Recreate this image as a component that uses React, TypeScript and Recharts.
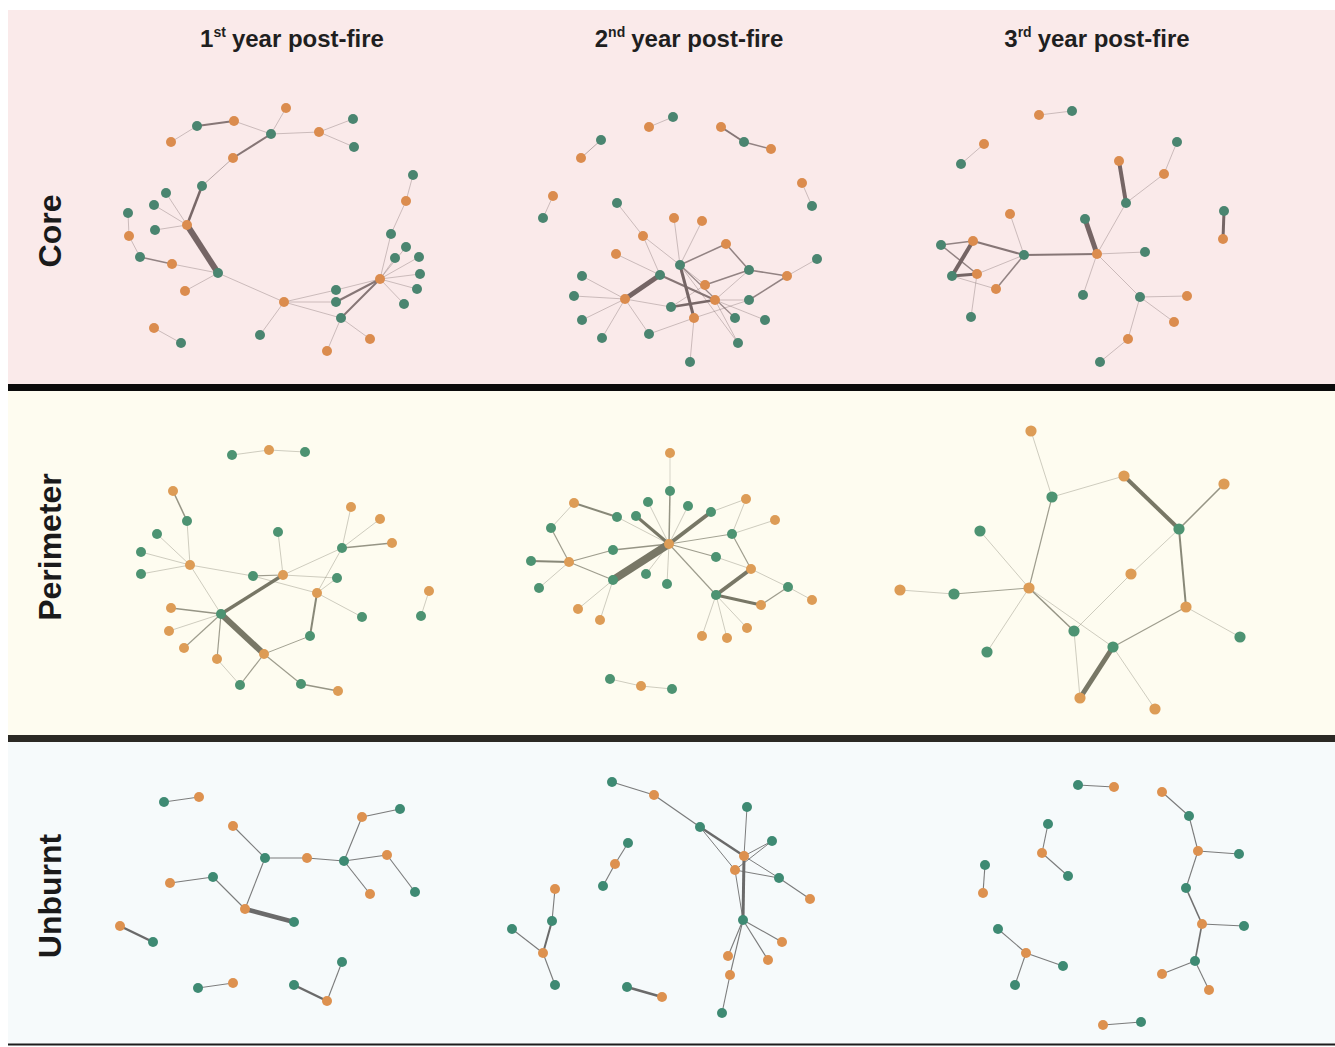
import React from 'react';
import { ScatterChart, Scatter, XAxis, YAxis, ReferenceArea } from 'recharts';

type N = [string, 'g' | 'o', number, number];
type E = [string, string, number];

// ---------- Core ----------
const coreY1Nodes: N[] = [
  ['A1','o',286,108],['A2','g',197,126],['A3','o',234,121],['A4','o',171,142],['A5','g',271,134],
  ['A6','o',319,132],['A7','g',353,119],['A8','g',354,147],['A9','o',233,158],['A10','g',202,186],
  ['A11','g',166,193],['A12','g',154,205],['A13','g',128,213],['A14','o',187,225],['A15','g',155,230],
  ['A16','o',129,236],['A17','g',140,257],['A18','o',172,264],['A19','g',218,273],['A20','o',185,291],
  ['A21','o',284,302],['A22','g',336,290],['A23','g',336,302],['A24','g',341,318],['A25','o',380,279],
  ['A26','g',395,258],['A27','g',406,247],['A28','g',419,257],['A29','g',420,274],['A30','g',417,289],
  ['A31','g',404,304],['A32','g',391,234],['A33','o',406,201],['A34','g',413,175],['A35','g',260,335],
  ['A36','o',370,339],['A37','o',327,351],['A38','o',154,328],['A39','g',181,343],
];
const coreY1Edges: E[] = [
  ['A4','A2',0.6],['A2','A3',2],['A3','A5',0.6],['A5','A1',0.6],['A5','A6',0.6],['A6','A7',0.6],
  ['A6','A8',0.6],['A5','A9',2],['A9','A10',0.8],['A10','A14',2.5],['A14','A11',0.6],['A14','A12',0.6],
  ['A14','A15',0.6],['A14','A19',6],['A13','A16',0.6],['A16','A17',0.6],['A17','A18',1.5],['A18','A19',0.6],
  ['A19','A20',0.6],['A19','A21',0.6],['A21','A22',0.6],['A21','A23',0.6],['A21','A24',0.6],['A21','A35',0.6],
  ['A22','A25',0.6],['A23','A25',2],['A24','A25',2],['A25','A26',0.6],['A25','A27',0.6],['A25','A28',0.6],
  ['A25','A29',0.6],['A25','A30',0.6],['A25','A31',0.6],['A25','A32',0.6],['A32','A33',0.6],['A33','A34',0.6],
  ['A24','A36',0.6],['A24','A37',0.6],['A38','A39',0.6],
];

const coreY2Nodes: N[] = [
  ['B1','o',649,127],['B2','g',673,117],['B3','g',601,140],['B4','o',581,158],['B5','o',721,127],
  ['B6','g',744,142],['B7','o',771,149],['B8','o',553,196],['B9','g',543,218],['B10','o',802,183],
  ['B11','g',812,206],['B12','g',617,203],['B13','o',674,218],['B14','o',702,221],['B15','o',643,236],
  ['B16','o',726,244],['B17','o',616,254],['B18','g',680,265],['B19','g',817,259],['B20','g',749,270],
  ['B21','g',660,275],['B22','o',787,276],['B23','g',582,276],['B24','o',705,285],['B25','g',574,296],
  ['B26','o',625,299],['B27','o',715,300],['B28','g',749,300],['B29','g',671,307],['B30','o',694,318],
  ['B31','g',735,318],['B32','g',582,320],['B33','g',765,320],['B34','g',602,338],['B35','g',649,334],
  ['B36','g',738,343],['B37','g',690,362],
];
const coreY2Edges: E[] = [
  ['B1','B2',0.6],['B3','B4',0.8],['B5','B6',2],['B6','B7',1.5],['B8','B9',0.6],['B10','B11',0.6],
  ['B12','B15',0.6],['B15','B18',0.6],['B15','B21',0.6],['B13','B18',0.6],['B14','B18',0.6],['B16','B18',1.5],
  ['B16','B20',1.5],['B17','B21',0.6],['B18','B30',3],['B18','B24',0.6],['B18','B31',1.2],['B18','B36',0.6],
  ['B21','B26',5],['B21','B27',2],['B26','B23',0.6],['B26','B25',0.6],['B26','B32',0.6],['B26','B34',0.6],
  ['B26','B35',0.6],['B26','B29',0.6],['B29','B27',2.5],['B29','B24',0.6],['B24','B20',1.5],['B27','B20',0.6],
  ['B27','B28',0.6],['B27','B33',0.6],['B27','B36',0.6],['B30','B35',0.6],['B30','B37',0.6],['B30','B28',0.6],
  ['B20','B22',1.5],['B22','B19',0.6],['B22','B28',1.5],
];

const coreY3Nodes: N[] = [
  ['C1','o',1039,115],['C2','g',1072,111],['C3','o',984,144],['C4','g',961,164],['C5','o',1119,161],
  ['C6','g',1177,142],['C7','o',1164,174],['C8','g',1126,203],['C9','g',1224,211],['C10','o',1223,239],
  ['C11','o',1010,214],['C12','g',1085,219],['C13','g',941,245],['C14','o',973,241],['C15','g',1024,255],
  ['C16','o',1097,254],['C17','g',1145,252],['C18','g',952,276],['C19','o',977,274],['C20','o',996,289],
  ['C21','g',1083,295],['C22','g',1140,297],['C23','o',1187,296],['C24','o',1174,322],['C25','g',971,317],
  ['C26','o',1128,339],['C27','g',1100,362],
];
const coreY3Edges: E[] = [
  ['C1','C2',0.6],['C3','C4',0.6],['C5','C8',4],['C8','C7',0.6],['C7','C6',0.6],['C8','C16',0.6],
  ['C9','C10',3],['C12','C16',5],['C16','C15',2],['C16','C17',0.6],['C16','C21',0.6],['C16','C22',0.6],
  ['C22','C23',0.6],['C22','C24',0.6],['C22','C26',0.6],['C26','C27',0.6],['C11','C15',0.6],['C15','C14',2],
  ['C15','C19',0.6],['C15','C20',1.5],['C13','C14',1.5],['C13','C19',1.5],['C14','C18',4],['C18','C19',3],
  ['C18','C20',0.6],['C19','C25',0.6],
];

// ---------- Perimeter ----------
const periY1Nodes: N[] = [
  ['D1','g',232,455],['D2','o',269,450],['D3','g',305,452],['D4','o',173,491],['D5','g',187,521],
  ['D6','g',157,534],['D7','g',141,552],['D8','o',190,565],['D9','g',141,574],['D10','g',278,532],
  ['D11','o',351,507],['D12','o',380,519],['D13','g',342,548],['D14','o',392,543],['D15','g',253,576],
  ['D16','o',283,575],['D17','g',337,578],['D18','o',317,593],['D19','g',362,617],['D20','o',429,591],
  ['D21','g',421,616],['D22','o',171,608],['D23','g',221,614],['D24','o',169,631],['D25','o',184,648],
  ['D26','g',310,636],['D27','o',217,659],['D28','o',264,654],['D29','g',240,685],['D30','g',301,684],
  ['D31','o',338,691],
];
const periY1Edges: E[] = [
  ['D1','D2',0.6],['D2','D3',0.6],['D4','D5',1.5],['D5','D8',0.6],['D6','D8',0.6],['D7','D8',0.6],
  ['D9','D8',0.6],['D8','D15',0.6],['D8','D23',0.6],['D15','D16',1.2],['D10','D16',0.6],['D16','D13',0.6],
  ['D16','D17',0.6],['D16','D23',3.5],['D15','D18',0.6],['D13','D11',0.6],['D13','D12',0.6],['D13','D14',1.5],
  ['D13','D18',0.6],['D17','D18',0.6],['D18','D19',0.6],['D18','D26',2],['D26','D28',1],['D23','D22',1.5],
  ['D23','D24',0.6],['D23','D25',1.2],['D23','D27',1.2],['D23','D28',6],['D27','D29',0.6],['D28','D29',1.2],
  ['D28','D30',1.2],['D30','D31',1.5],['D20','D21',0.6],
];

const periY2Nodes: N[] = [
  ['E1','o',670,453],['E2','g',670,491],['E3','g',648,502],['E4','g',688,506],['E5','o',574,503],
  ['E6','o',746,499],['E7','g',617,517],['E8','g',636,516],['E9','g',711,512],['E10','o',775,520],
  ['E11','g',551,528],['E12','g',732,534],['E13','o',669,544],['E14','g',613,550],['E15','g',716,557],
  ['E16','g',531,561],['E17','o',569,562],['E18','o',751,569],['E19','g',646,574],['E20','g',613,580],
  ['E21','g',667,584],['E22','g',539,588],['E23','g',788,587],['E24','g',716,595],['E25','o',812,600],
  ['E26','o',761,605],['E27','o',578,609],['E28','o',600,620],['E29','o',747,628],['E30','o',702,636],
  ['E31','o',727,638],['E32','g',610,679],['E33','o',641,686],['E34','g',672,689],
];
const periY2Edges: E[] = [
  ['E1','E2',0.5],['E2','E13',1.5],['E3','E13',0.6],['E4','E13',0.6],['E8','E13',3],['E9','E13',4],
  ['E7','E13',0.6],['E12','E13',1],['E15','E13',1.2],['E14','E13',1.5],['E19','E13',0.6],['E21','E13',0.6],
  ['E20','E13',8],['E24','E13',1.2],['E5','E7',2],['E5','E11',0.6],['E11','E17',1.2],['E16','E17',2],
  ['E17','E14',1.2],['E17','E20',1.2],['E17','E22',0.6],['E20','E27',0.6],['E20','E28',0.6],['E6','E9',0.6],
  ['E6','E12',0.6],['E12','E10',0.6],['E12','E18',1.2],['E15','E18',0.6],['E18','E24',4],['E18','E23',0.6],
  ['E23','E25',0.6],['E23','E26',1.2],['E24','E26',3],['E24','E30',0.6],['E24','E31',0.6],['E24','E29',0.6],
  ['E32','E33',0.6],['E33','E34',0.6],
];

const periY3Nodes: N[] = [
  ['F1','o',1031,431],['F2','o',1124,476],['F3','o',1224,484],['F4','g',1052,497],['F5','g',980,531],
  ['F6','g',1179,529],['F7','o',1131,574],['F8','o',900,590],['F9','g',954,594],['F10','o',1029,588],
  ['F11','o',1186,607],['F12','g',1074,631],['F13','g',1240,637],['F14','g',1113,647],['F15','g',987,652],
  ['F16','o',1080,698],['F17','o',1155,709],
];
const periY3Edges: E[] = [
  ['F1','F4',0.6],['F4','F2',0.6],['F4','F10',1.2],['F2','F6',4],['F6','F3',1.5],['F6','F7',0.6],
  ['F6','F11',2],['F5','F10',0.6],['F8','F9',0.6],['F9','F10',1],['F10','F15',0.6],['F10','F12',1.5],
  ['F10','F14',0.6],['F7','F12',0.6],['F12','F16',0.6],['F14','F16',5],['F14','F11',1.2],['F14','F17',0.6],
  ['F11','F13',0.6],
];

// ---------- Unburnt ----------
const unbY1Nodes: N[] = [
  ['G1','g',164,802],['G2','o',199,797],['G3','o',233,826],['G4','g',265,858],['G5','o',307,858],
  ['G6','g',344,861],['G7','o',362,817],['G8','g',400,809],['G9','o',387,855],['G10','g',415,892],
  ['G11','o',370,894],['G12','o',170,883],['G13','g',213,877],['G14','o',245,909],['G15','g',294,922],
  ['G16','o',120,926],['G17','g',153,942],['G18','g',342,962],['G19','g',198,988],['G20','o',233,983],
  ['G21','g',294,985],['G22','o',327,1001],
];
const unbY1Edges: E[] = [
  ['G1','G2',1],['G3','G4',1.1],['G4','G5',1.1],['G5','G6',1.1],['G6','G7',1.1],['G7','G8',1.1],
  ['G6','G9',1.1],['G9','G10',1.1],['G6','G11',1.1],['G12','G13',1.1],['G13','G14',1.1],['G14','G4',1.1],
  ['G14','G15',4.5],['G16','G17',2.5],['G19','G20',1],['G21','G22',2.5],['G22','G18',1.1],
];

const unbY2Nodes: N[] = [
  ['H1','g',612,782],['H2','o',654,795],['H3','g',747,807],['H4','g',700,827],['H5','g',772,841],
  ['H6','o',744,856],['H7','o',735,870],['H8','g',779,878],['H9','o',810,899],['H10','g',628,843],
  ['H11','o',615,864],['H12','g',603,886],['H13','o',555,889],['H14','g',552,921],['H15','g',512,929],
  ['H16','o',543,953],['H17','g',555,985],['H18','g',743,920],['H19','o',782,942],['H20','o',728,956],
  ['H21','o',768,960],['H22','o',730,975],['H23','g',722,1013],['H24','g',627,987],['H25','o',662,997],
];
const unbY2Edges: E[] = [
  ['H1','H2',1.1],['H2','H4',1.1],['H4','H6',2.5],['H4','H7',1],['H3','H6',1],['H5','H6',1],
  ['H5','H7',1],['H6','H8',1],['H7','H8',1],['H8','H9',1.1],['H6','H18',3],['H7','H18',1],
  ['H18','H19',1.1],['H18','H20',1.1],['H18','H21',1.1],['H18','H22',1.1],['H22','H23',1.1],['H10','H11',1.1],
  ['H11','H12',1.1],['H13','H14',1.1],['H14','H16',2],['H15','H16',1.1],['H16','H17',1.1],['H24','H25',2.5],
];

const unbY3Nodes: N[] = [
  ['I1','g',1078,785],['I2','o',1114,787],['I3','o',1162,792],['I4','g',1189,816],['I5','g',1048,824],
  ['I6','o',1042,853],['I7','g',1068,876],['I8','o',1198,851],['I9','g',1239,854],['I10','g',985,865],
  ['I11','o',983,893],['I12','g',1186,888],['I13','o',1202,924],['I14','g',1244,926],['I15','g',998,929],
  ['I16','o',1026,953],['I17','g',1063,966],['I18','g',1195,961],['I19','o',1162,974],['I20','g',1015,985],
  ['I21','o',1209,990],['I22','o',1103,1025],['I23','g',1141,1022],
];
const unbY3Edges: E[] = [
  ['I1','I2',1.1],['I3','I4',1.1],['I4','I8',1.1],['I8','I9',1.1],['I8','I12',1.1],['I12','I13',1.6],
  ['I13','I14',1.1],['I13','I18',1.6],['I18','I19',1.1],['I18','I21',1.1],['I5','I6',1.1],['I6','I7',1.1],
  ['I10','I11',1.1],['I15','I16',1.1],['I16','I17',1.1],['I16','I20',1.1],['I22','I23',1.1],
];

// ---------- frame ----------
const columnTitles = [
  { ord: '1', sup: 'st', cx: 292 },
  { ord: '2', sup: 'nd', cx: 689 },
  { ord: '3', sup: 'rd', cx: 1097 },
];
const rowLabels = [
  { label: 'Core', cy: 231 },
  { label: 'Perimeter', cy: 547 },
  { label: 'Unburnt', cy: 896 },
];
const bands = [
  { y1: 10, y2: 385, fill: '#FAEAEA' },
  { y1: 391, y2: 736, fill: '#FEFCF0' },
  { y1: 741, y2: 1044, fill: '#F6FAFB' },
];
const separators = [
  { y1: 384, y2: 391, fill: '#0b0b0b' },
  { y1: 735, y2: 742, fill: '#2b2924' },
  { y1: 1043.5, y2: 1045.5, fill: '#1c1c1c' },
];

type RowKey = 'core' | 'perimeter' | 'unburnt';
const rowStyles: Record<RowKey, { green: string; orange: string; edge: string; base: number; k: number }> = {
  core: { green: '#4a8570', orange: '#db8c4e', edge: '#756565', base: 0.48, k: 0.2 },
  perimeter: { green: '#4d9372', orange: '#dd9c56', edge: '#787766', base: 0.48, k: 0.2 },
  unburnt: { green: '#3e8a73', orange: '#dd914f', edge: '#6a6a6a', base: 0.72, k: 0.15 },
};

const panels: { key: string; row: RowKey; nodes: N[]; edges: E[]; r: number }[] = [
  { key: 'c1', row: 'core', nodes: coreY1Nodes, edges: coreY1Edges, r: 5 },
  { key: 'c2', row: 'core', nodes: coreY2Nodes, edges: coreY2Edges, r: 5 },
  { key: 'c3', row: 'core', nodes: coreY3Nodes, edges: coreY3Edges, r: 5 },
  { key: 'p1', row: 'perimeter', nodes: periY1Nodes, edges: periY1Edges, r: 5 },
  { key: 'p2', row: 'perimeter', nodes: periY2Nodes, edges: periY2Edges, r: 5 },
  { key: 'p3', row: 'perimeter', nodes: periY3Nodes, edges: periY3Edges, r: 5.6 },
  { key: 'u1', row: 'unburnt', nodes: unbY1Nodes, edges: unbY1Edges, r: 5 },
  { key: 'u2', row: 'unburnt', nodes: unbY2Nodes, edges: unbY2Edges, r: 5 },
  { key: 'u3', row: 'unburnt', nodes: unbY3Nodes, edges: unbY3Edges, r: 5 },
];

const W = 1335;
const H = 1047;
const X0 = 8; // left edge of the panels

const noShape = () => <g />;
const dot = (fill: string, r: number) => (props: any) =>
  props.cx == null ? <g /> : <circle cx={props.cx} cy={props.cy} r={r} fill={fill} />;

const FONT = '"Liberation Sans", Arial, Helvetica, sans-serif';

export default function App() {
  const edgeSeries: React.ReactNode[] = [];
  const nodeSeries: React.ReactNode[] = [];
  panels.forEach((p) => {
    const st = rowStyles[p.row];
    const map: Record<string, { x: number; y: number }> = {};
    p.nodes.forEach(([id, , x, y]) => (map[id] = { x, y }));
    p.edges.forEach(([a, b, w], i) => {
      edgeSeries.push(
        <Scatter
          key={`${p.key}-e${i}`}
          data={[map[a], map[b]]}
          line={{ stroke: st.edge, strokeWidth: w, strokeOpacity: Math.min(1, st.base + st.k * w) }}
          shape={noShape}
          isAnimationActive={false}
        />
      );
    });
    const greens = p.nodes.filter((n) => n[1] === 'g').map(([, , x, y]) => ({ x, y }));
    const oranges = p.nodes.filter((n) => n[1] === 'o').map(([, , x, y]) => ({ x, y }));
    nodeSeries.push(
      <Scatter key={`${p.key}-g`} data={greens} shape={dot(st.green, p.r)} isAnimationActive={false} />,
      <Scatter key={`${p.key}-o`} data={oranges} shape={dot(st.orange, p.r)} isAnimationActive={false} />
    );
  });

  return (
    <div style={{ position: 'relative', width: W, height: H, fontFamily: FONT, overflow: 'hidden' }}>
      <style>{'html,body{margin:0;padding:0;overflow:hidden;}'}</style>
      <ScatterChart width={W} height={H} margin={{ top: 0, right: 0, bottom: 0, left: 0 }}>
        <XAxis type="number" dataKey="x" domain={[0, W]} hide allowDataOverflow />
        <YAxis type="number" dataKey="y" domain={[0, H]} reversed hide allowDataOverflow />
        {bands.map((b, i) => (
          <ReferenceArea key={`band${i}`} x1={X0} x2={W} y1={b.y1} y2={b.y2} fill={b.fill} fillOpacity={1} stroke="none" ifOverflow="visible" />
        ))}
        {separators.map((b, i) => (
          <ReferenceArea key={`sep${i}`} x1={X0} x2={W} y1={b.y1} y2={b.y2} fill={b.fill} fillOpacity={1} stroke="none" ifOverflow="visible" />
        ))}
        {edgeSeries}
        {nodeSeries}
      </ScatterChart>
      {columnTitles.map((t) => (
        <div
          key={t.ord}
          style={{
            position: 'absolute',
            left: t.cx,
            top: 27,
            transform: 'translateX(-50%)',
            whiteSpace: 'nowrap',
            fontWeight: 700,
            fontSize: 24,
            lineHeight: '24px',
            color: '#1f1f1f',
          }}
        >
          {t.ord}
          <span style={{ fontSize: 14, position: 'relative', top: -10, marginRight: 6 }}>{t.sup}</span>
          year post-fire
        </div>
      ))}
      {rowLabels.map((r) => (
        <div
          key={r.label}
          style={{
            position: 'absolute',
            left: 50,
            top: r.cy,
            transform: 'translate(-50%, -50%) rotate(-90deg)',
            whiteSpace: 'nowrap',
            fontWeight: 700,
            fontSize: 32,
            lineHeight: '32px',
            color: '#1a1a1a',
          }}
        >
          {r.label}
        </div>
      ))}
    </div>
  );
}
